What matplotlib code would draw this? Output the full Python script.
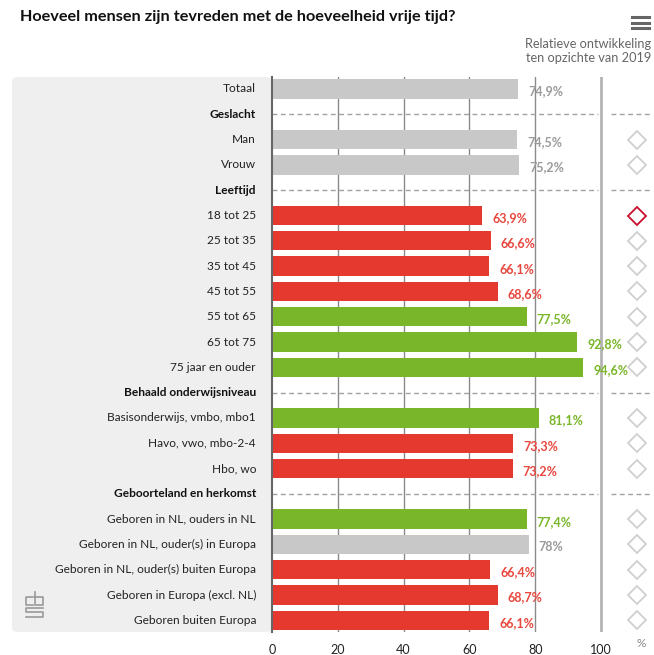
import numpy as np
import matplotlib
matplotlib.use('Agg')
import matplotlib.pyplot as plt
from matplotlib.patches import FancyBboxPatch

plt.rcParams['font.family'] = ['Lato', 'DejaVu Sans']

# data (None = group header row)
labels = ['Totaal', 'Geslacht', 'Man', 'Vrouw', 'Leeftijd',
          '18 tot 25', '25 tot 35', '35 tot 45', '45 tot 55', '55 tot 65',
          '65 tot 75', '75 jaar en ouder', 'Behaald onderwijsniveau',
          'Basisonderwijs, vmbo, mbo1', 'Havo, vwo, mbo-2-4', 'Hbo, wo',
          'Geboorteland en herkomst', 'Geboren in NL, ouders in NL',
          'Geboren in NL, ouder(s) in Europa', 'Geboren in NL, ouder(s) buiten Europa',
          'Geboren in Europa (excl. NL)', 'Geboren buiten Europa']
values = [74.9, None, 74.5, 75.2, None,
          63.9, 66.6, 66.1, 68.6, 77.5, 92.8, 94.6, None,
          81.1, 73.3, 73.2, None,
          77.4, 78.0, 66.4, 68.7, 66.1]
# g = grey (gemiddeld), r = lager, n = hoger
status = ['g', '', 'g', 'g', '',
          'r', 'r', 'r', 'r', 'n', 'n', 'n', '',
          'n', 'r', 'r', '',
          'n', 'g', 'r', 'r', 'r']
# relative development vs 2019: 'down' = significant lower, '' = no change
trend = [None, None, '', '', None,
         'down', '', '', '', '', '', '', None,
         '', '', '', None,
         '', '', '', '', '']
xticks = [0, 20, 40, 60, 80, 100]

bar_col = {'g': '#c8c8c8', 'r': '#e5392f', 'n': '#7ab629'}
txt_col = {'g': '#9b9b9b', 'r': '#e8473e', 'n': '#7ab629'}

W, H = 654, 655
fig = plt.figure(figsize=(W / 100, H / 100), dpi=100)

def fx(px):
    return px / W

def fy(py):
    return 1 - py / H

# left grey panel
panel = FancyBboxPatch((fx(12), fy(632)), fx(272) - fx(12), fy(77) - fy(632),
                       boxstyle='round,pad=0,rounding_size=0.008',
                       transform=fig.transFigure, facecolor='#efefef',
                       edgecolor='none', zorder=-1)
fig.patches.append(panel)

pxu = 3.29  # pixels per percent
x0, x1 = 272, 650
ax = fig.add_axes([fx(x0), fy(632), fx(x1) - fx(x0), fy(77) - fy(632)])
ax.set_facecolor('none')
xmax = (x1 - x0) / pxu
ax.set_xlim(0, xmax)
row_px = 25.3
ax.set_ylim((632 - 89) / row_px, -(89 - 77) / row_px)

# gridlines
for t in [20, 40, 60, 80]:
    ax.axvline(t, color='#8a8a8a', lw=1, zorder=1)
ax.axvline(100, color='#b4b4b4', lw=2, zorder=1)

fs = 9
fl = 8.6
for i, (lab, v, s, tr) in enumerate(zip(labels, values, status, trend)):
    if v is None:
        ax.plot([0, (598 - x0) / pxu], [i, i], color='#a0a0a0', lw=1,
                ls=(0, (3.5, 2.5)), zorder=1)
        ax.plot([(611 - x0) / pxu, xmax], [i, i], color='#a0a0a0', lw=1,
                ls=(0, (3.5, 2.5)), zorder=1)
        ax.text(-16 / pxu, i, lab, ha='right', va='center', fontsize=fl,
                fontweight='bold', color='#111111')
        continue
    ax.barh(i, v, height=0.76, color=bar_col[s], zorder=2)
    vt = f'{v:.1f}'.replace('.', ',') if v != int(v) else f'{int(v)}'
    ax.text(v + 3, i + 0.1, vt + '%', ha='left', va='center', fontsize=fs,
            fontweight='bold', color=txt_col[s], zorder=3)
    ax.text(-16 / pxu, i, lab, ha='right', va='center', fontsize=fl,
            color='#222222')
    if tr is not None:
        ec = '#c8102e' if tr == 'down' else '#cfcfcf'
        ax.plot((637 - x0) / pxu, i, marker='D', ms=9, mfc='white',
                mec=ec, mew=1.3, zorder=3)

for sp in ['top', 'right', 'bottom']:
    ax.spines[sp].set_visible(False)
ax.spines['left'].set_color('#666666')
ax.spines['left'].set_linewidth(1.5)
ax.set_yticks([])
ax.set_xticks(xticks)
ax.set_xticklabels([str(t) for t in xticks], fontsize=fs, color='#222222')
ax.tick_params(axis='x', length=0, pad=9)
ax.text((641 - x0) / pxu, -0.02, '%', transform=ax.get_xaxis_transform(),
        ha='center', va='center', fontsize=8.5, color='#888888')

# title and side notes
fig.text(fx(20), fy(17), 'Hoeveel mensen zijn tevreden met de hoeveelheid vrije tijd?',
         ha='left', va='center', fontsize=11.7, fontweight='bold', color='#111111')
fig.text(fx(651), fy(44), 'Relatieve ontwikkeling', ha='right', va='center',
         fontsize=9.2, color='#666666')
fig.text(fx(651), fy(58), 'ten opzichte van 2019', ha='right', va='center',
         fontsize=9.2, color='#666666')

# menu icon
for yy in [17, 22.5, 28]:
    fig.add_artist(plt.Line2D([fx(632), fx(649)], [fy(yy), fy(yy)],
                              color='#666666', lw=2.2, transform=fig.transFigure))

# small cbs logo
logo = [[(33, 597), (26, 597), (26, 605), (33, 605)],
        [(35, 592), (35, 605), (43, 605), (43, 597), (35, 597)],
        [(43, 608), (26, 608), (26, 612), (43, 612), (43, 617), (26, 617)]]
for seg in logo:
    xs, ys = zip(*seg)
    fig.add_artist(plt.Line2D([fx(x) for x in xs], [fy(y) for y in ys],
                              color='#9a9a9a', lw=1.2, transform=fig.transFigure))

fig.savefig('out.png', dpi=100)
